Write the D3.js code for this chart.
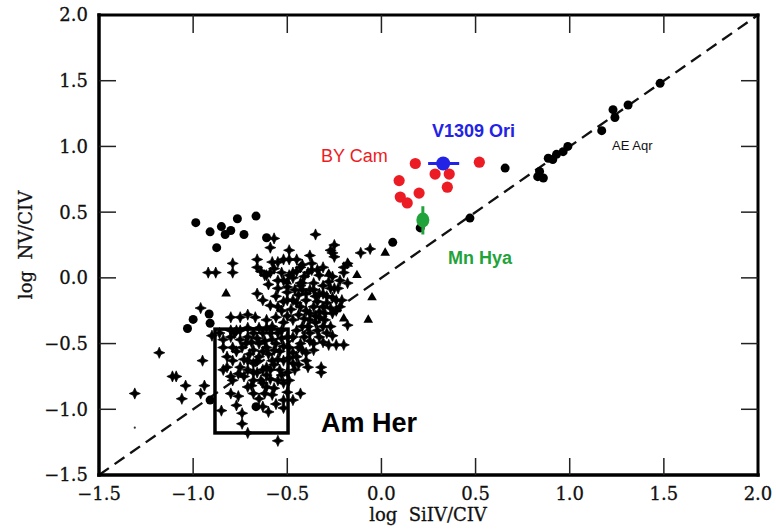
<!DOCTYPE html>
<html><head><meta charset="utf-8">
<script src="https://cdn.jsdelivr.net/npm/d3@7"></script>
<style>body{margin:0;background:#fff}svg{display:block}</style>
</head><body>
<svg id="c" width="776" height="529"></svg>
<script>
const xTicks = [-1.5,-1.0,-0.5,0.0,0.5,1.0,1.5,2.0];
const yTicks = [-1.5,-1.0,-0.5,0.0,0.5,1.0,1.5,2.0];
const crosses = [
[-0.35,0.33],[-0.57,0.30],[-0.59,0.23],[-0.49,0.21],[-0.27,0.21],[-0.25,0.25],[-0.25,0.16],[-0.11,0.19],[-0.06,0.22],
[-0.66,0.14],[-0.66,0.08],[-0.55,0.12],[-0.52,0.14],[-0.49,0.14],[-0.38,0.17],[-0.37,0.11],[-0.34,0.06],[-0.43,0.08],
[-0.47,0.04],[-0.53,0.04],[-0.59,0.04],[-0.62,0.02],[-0.52,-0.02],[-0.47,0.00],[-0.41,0.01],[-0.43,-0.04],[-0.36,-0.04],
[-0.31,-0.06],[-0.20,0.04],[-0.22,-0.02],[-0.23,-0.08],[-0.66,-0.12],[-0.50,-0.11],[-0.42,-0.09],[-0.36,-0.09],[-0.31,-0.12],
[-0.26,-0.15],[-0.24,-0.17],[-0.59,-0.21],[-0.52,-0.18],[-0.47,-0.17],[-0.40,-0.17],[-0.34,-0.18],[-0.29,-0.19],
[-0.92,0.04],[-0.88,0.04],[-0.79,0.11],[-0.79,0.04],[-0.96,-0.23],
[-0.80,-0.30],[-0.75,-0.30],[-0.71,-0.28],[-0.67,-0.30],[-0.61,-0.32],
[-0.50,-0.07],[-0.43,-0.06],[-0.40,-0.12],[-0.33,-0.12],[-0.27,-0.08],
[-0.43,-0.22],[-0.38,-0.27],[-0.33,-0.26],[-0.30,-0.32],[-0.26,-0.27],[-0.35,-0.34],[-0.42,-0.37],[-0.47,-0.32],[-0.52,-0.34],[-0.58,-0.37],
[-0.26,-0.44],[-0.28,-0.51],[-0.24,-0.51],[-0.20,-0.51],[-0.18,-0.36],[-0.33,-0.45],[-0.36,-0.50],[-0.42,-0.55],[-0.45,-0.60],[-0.40,-0.63],[-0.32,-0.68],[-0.32,-0.72],[-0.47,-0.65],
[-1.18,-0.57],[-1.11,-0.75],[-1.09,-0.75],[-1.04,-0.82],[-0.95,-0.63],[-0.94,-0.82],[-1.06,-0.92],[-0.96,-0.88],[-1.31,-0.88],
[-0.85,-1.01],[-0.80,-0.88],[-0.77,-0.97],[-0.74,-1.03],[-0.74,-1.11],[-0.71,-1.18],[-0.55,-1.24],
[-0.68,-0.88],[-0.65,-0.92],[-0.61,-0.83],[-0.58,-0.89],[-0.52,-0.93],[-0.50,-0.87],[-0.47,-0.93],[-0.43,-0.88],
[-0.79,-0.78],[-0.71,-0.83],[-0.68,-0.72],[-0.80,-0.75],[-0.82,-0.68],[-0.79,-0.63],[-0.75,-0.68],[-0.71,-0.63],[-0.68,-0.65],[-0.65,-0.60],[-0.61,-0.68],[-0.58,-0.63],[-0.54,-0.70],[-0.52,-0.63],[-0.50,-0.72],
[-0.68,-0.55],[-0.65,-0.50],[-0.61,-0.53],[-0.58,-0.47],[-0.54,-0.56],[-0.75,-0.47],[-0.79,-0.53],[-0.80,-0.45],[-0.84,-0.53],[-0.82,-0.60],
[-0.71,-0.45],[-0.68,-0.42],[-0.63,-0.42],[-0.55,-0.42],[-0.50,-0.45],[-0.49,-0.53],[-0.47,-0.57],[-0.43,-0.50],[-0.47,-0.45],[-0.86,-0.42],[-0.75,-0.40],[-0.61,-0.38],
[-0.68,-0.78],[-0.61,-0.74],[-0.55,-0.78],[-0.52,-0.80],[-0.49,-0.78],
[-0.31,-0.37],[-0.38,-0.42],[-0.90,-0.44],[-0.84,-0.47],[-0.77,-0.40],[-0.84,-0.70],
[-0.61,0.02],[-0.42,0.10],[-0.37,0.06],[-0.26,0.01],[-0.20,0.08],[-0.26,0.19],[-0.18,0.11],
[-0.55,-0.02],[-0.49,0.02],[-0.42,-0.04],[-0.38,-0.09],[-0.31,-0.22],[-0.40,-0.25],[-0.45,-0.19],[-0.50,-0.17],[-0.53,-0.25],
[-0.38,-0.32],[-0.33,-0.30],[-0.27,-0.37],[-0.24,-0.25],[-0.21,-0.17],[-0.25,-0.08],[-0.18,-0.04],[-0.31,0.08],[-0.45,0.14],[-0.58,0.12],
[-0.78,-0.42],[-0.72,-0.50],[-0.66,-0.46],[-0.60,-0.58],[-0.56,-0.50],[-0.63,-0.70],[-0.70,-0.58],[-0.57,-0.66],[-0.53,-0.46],
[-0.59,-0.77],[-0.64,-0.78],[-0.73,-0.75],[-0.62,-0.88],[-0.56,-0.96],[-0.52,-0.99],[-0.63,-0.98],[-0.76,-0.90],[-0.60,-1.02],
[-0.64,0.05],[-0.57,0.07],[-0.45,0.05],[-0.39,0.04],[-0.33,0.02],[-0.28,-0.03],[-0.46,-0.09],[-0.55,-0.08],[-0.60,-0.05],
[-0.35,-0.14],[-0.29,-0.14],[-0.44,-0.13],[-0.56,-0.14],[-0.63,-0.17],[-0.55,-0.22],[-0.48,-0.24],[-0.36,-0.22],[-0.27,-0.23],
[-0.22,-0.22],[-0.30,-0.27],[-0.44,-0.28],[-0.50,-0.29],[-0.56,-0.30],[-0.41,-0.31],[-0.35,-0.29],[-0.39,-0.37],[-0.45,-0.40],
[-0.34,-0.40],[-0.29,-0.42],[-0.41,-0.45],[-0.38,-0.48],[-0.31,-0.49],[-0.44,-0.53],[-0.40,-0.57],[-0.36,-0.55],[-0.49,-0.61],
[-0.44,-0.66],[-0.46,-0.70],[-0.39,-0.68],[-0.57,-0.55],[-0.63,-0.56],[-0.66,-0.63],[-0.73,-0.62],[-0.77,-0.56],[-0.74,-0.53],
[-0.69,-0.49],[-0.62,-0.48],[-0.59,-0.42],[-0.53,-0.40],[-0.65,-0.38],[-0.71,-0.38],[-0.80,-0.40],[-0.52,-0.52],[-0.55,-0.62],
[-0.59,-0.70],[-0.66,-0.72],[-0.71,-0.70],[-0.76,-0.73],[-0.53,-0.74],[-0.57,-0.84],[-0.63,-0.80],[-0.69,-0.82]
];
const dots = [[-1.31,-1.14]];
const circles = [
[1.48,1.48],[1.31,1.315],[1.23,1.28],[1.24,1.22],[1.17,1.12],[0.99,1.0],[0.965,0.96],[0.93,0.94],[0.886,0.91],[0.91,0.90],
[0.84,0.81],[0.86,0.76],[0.83,0.77],[0.657,0.835],[0.47,0.455],[0.06,0.27],[0.206,0.38],
[-0.986,0.42],[-0.91,0.35],[-0.85,0.39],[-0.80,0.36],[-0.83,0.33],[-0.765,0.45],[-0.73,0.33],[-0.666,0.47],[-0.875,0.23],[-0.61,0.305],
[-1.0,-0.316],[-1.03,-0.385],[-0.915,-0.275],[-0.91,-0.345],[-0.666,-0.98],[-0.91,-0.93]
];
const triangles = [[-0.176,0.105],[-0.13,0.02],[-0.28,0.03],[-0.05,-0.15],[-0.07,-0.32],[-0.20,-0.31],[-0.825,-0.12],[-0.50,-0.03],[0.02,0.19]];
const byCam = [[0.18,0.87],[0.52,0.88],[0.094,0.74],[0.285,0.79],[0.36,0.79],[0.35,0.69],[0.20,0.645],[0.10,0.615],[0.137,0.57]];
const v1309 = {x:0.328, y:0.87, xlo:0.248, xhi:0.413};
const mnHya = {x:0.22, y:0.44, ylo:0.33, yhi:0.545};
const amHerBox = {x0:-0.884, x1:-0.496, y0:-1.18, y1:-0.39};

const svg = d3.select("#c");
const x = d3.scaleLinear().domain([-1.5,2.0]).range([99,758]);
const y = d3.scaleLinear().domain([-1.5,2.0]).range([475,15]);
const fmt = v => (v<0?"\u2212":"") + Math.abs(v).toFixed(1);
const serif = "'DejaVu Serif', serif";
const sans = "'Liberation Sans', Arial, sans-serif";

// diagonal dashed line
svg.append("line").attr("x1",x(-1.5)).attr("y1",y(-1.5)).attr("x2",x(2)).attr("y2",y(2))
  .attr("stroke","#111").attr("stroke-width",2.4).attr("stroke-dasharray","12,7");

// Am Her box
svg.append("rect").attr("x",x(amHerBox.x0)).attr("y",y(amHerBox.y1))
  .attr("width",x(amHerBox.x1)-x(amHerBox.x0)).attr("height",y(amHerBox.y0)-y(amHerBox.y1))
  .attr("fill","none").attr("stroke","#000").attr("stroke-width",3.5);

// crosses (4-pointed stars)
const r=5.6, w=1.7;
const star = `M0,${-r}L${w},${-w}L${r},0L${w},${w}L0,${r}L${-w},${w}L${-r},0L${-w},${-w}Z`;
svg.append("g").selectAll("path").data(crosses).join("path")
  .attr("d",star).attr("transform",d=>`translate(${x(d[0])},${y(d[1])})`)
  .attr("fill","#000").attr("stroke","#000").attr("stroke-width",0.7);
svg.append("g").selectAll("circle").data(dots).join("circle")
  .attr("cx",d=>x(d[0])).attr("cy",d=>y(d[1])).attr("r",1.1).attr("fill","#333");
svg.append("g").selectAll("circle").data(circles).join("circle")
  .attr("cx",d=>x(d[0])).attr("cy",d=>y(d[1])).attr("r",4.5).attr("fill","#000");
svg.append("g").selectAll("path").data(triangles).join("path")
  .attr("d",d3.symbol(d3.symbolTriangle,40)).attr("transform",d=>`translate(${x(d[0])},${y(d[1])})`)
  .attr("fill","#000");

// BY Cam
svg.append("g").selectAll("circle").data(byCam).join("circle")
  .attr("cx",d=>x(d[0])).attr("cy",d=>y(d[1])).attr("r",5.6).attr("fill","#ec1c24");
// Mn Hya
svg.append("line").attr("x1",x(mnHya.x)).attr("x2",x(mnHya.x)).attr("y1",y(mnHya.ylo)).attr("y2",y(mnHya.yhi))
  .attr("stroke","#1fa33a").attr("stroke-width",3);
svg.append("ellipse").attr("cx",x(mnHya.x)).attr("cy",y(mnHya.y)).attr("rx",6.5).attr("ry",7.5).attr("fill","#1fa33a");
// V1309 Ori
svg.append("line").attr("x1",x(v1309.xlo)).attr("x2",x(v1309.xhi)).attr("y1",y(v1309.y)).attr("y2",y(v1309.y))
  .attr("stroke","#2323e6").attr("stroke-width",3);
svg.append("circle").attr("cx",x(v1309.x)).attr("cy",y(v1309.y)).attr("r",7).attr("fill","#2323e6");

// frame
const fr = svg.append("g").attr("stroke","#000").attr("stroke-linecap","square");
fr.append("line").attr("x1",99).attr("x2",99).attr("y1",15).attr("y2",475).attr("stroke-width",3.5);
fr.append("line").attr("x1",99).attr("x2",758).attr("y1",475).attr("y2",475).attr("stroke-width",3.5);
fr.append("line").attr("x1",99).attr("x2",758).attr("y1",15).attr("y2",15).attr("stroke-width",3);
fr.append("line").attr("x1",758).attr("x2",758).attr("y1",15).attr("y2",475).attr("stroke-width",3);

// ticks
const inner = xTicks.slice(1,-1), innerY = yTicks.slice(1,-1);
const tk = svg.append("g").attr("stroke","#222").attr("stroke-width",1.5);
inner.forEach(v=>{
  tk.append("line").attr("x1",x(v)).attr("x2",x(v)).attr("y1",475).attr("y2",458);
  tk.append("line").attr("x1",x(v)).attr("x2",x(v)).attr("y1",15).attr("y2",33);
});
innerY.forEach(v=>{
  tk.append("line").attr("y1",y(v)).attr("y2",y(v)).attr("x1",99).attr("x2",116);
  tk.append("line").attr("y1",y(v)).attr("y2",y(v)).attr("x1",758).attr("x2",741);
});

// tick labels
svg.append("g").selectAll("text").data(xTicks).join("text")
  .attr("x",d=>x(d)).attr("y",500).attr("text-anchor","middle")
  .attr("font-family",serif).attr("font-size",18).attr("fill","#111")
  .attr("stroke","#111").attr("stroke-width",0.3).text(fmt);
svg.append("g").selectAll("text").data(yTicks).join("text")
  .attr("x",88).attr("y",d=>y(d)).attr("dy","0.36em").attr("text-anchor","end")
  .attr("font-family",serif).attr("font-size",18).attr("fill","#111")
  .attr("stroke","#111").attr("stroke-width",0.3).text(fmt);

// axis titles
svg.append("text").attr("x",428).attr("y",521).attr("text-anchor","middle")
  .attr("font-family",serif).attr("font-size",18).attr("fill","#111")
  .attr("stroke","#111").attr("stroke-width",0.3)
  .style("white-space","pre").text("log  SiIV/CIV");
svg.append("text").attr("transform","translate(32,245) rotate(-90)").attr("text-anchor","middle")
  .attr("font-family",serif).attr("font-size",18).attr("fill","#111")
  .attr("stroke","#111").attr("stroke-width",0.3)
  .style("white-space","pre").text("log  NV/CIV");

// annotations
svg.append("text").attr("x",321).attr("y",162).attr("font-family",sans).attr("font-size",18)
  .attr("fill","#ec1c24").text("BY Cam");
svg.append("text").attr("x",432).attr("y",137).attr("font-family",sans).attr("font-size",18).attr("font-weight","bold")
  .attr("fill","#2323e6").text("V1309 Ori");
svg.append("text").attr("x",448).attr("y",264).attr("font-family",sans).attr("font-size",18).attr("font-weight","bold")
  .attr("fill","#1fa33a").text("Mn Hya");
svg.append("text").attr("x",612).attr("y",150).attr("font-family",sans).attr("font-size",13)
  .attr("fill","#111").text("AE Aqr");
svg.append("text").attr("x",321).attr("y",432).attr("font-family",sans).attr("font-size",27).attr("font-weight","bold")
  .attr("fill","#000").text("Am Her");
</script>
</body></html>
